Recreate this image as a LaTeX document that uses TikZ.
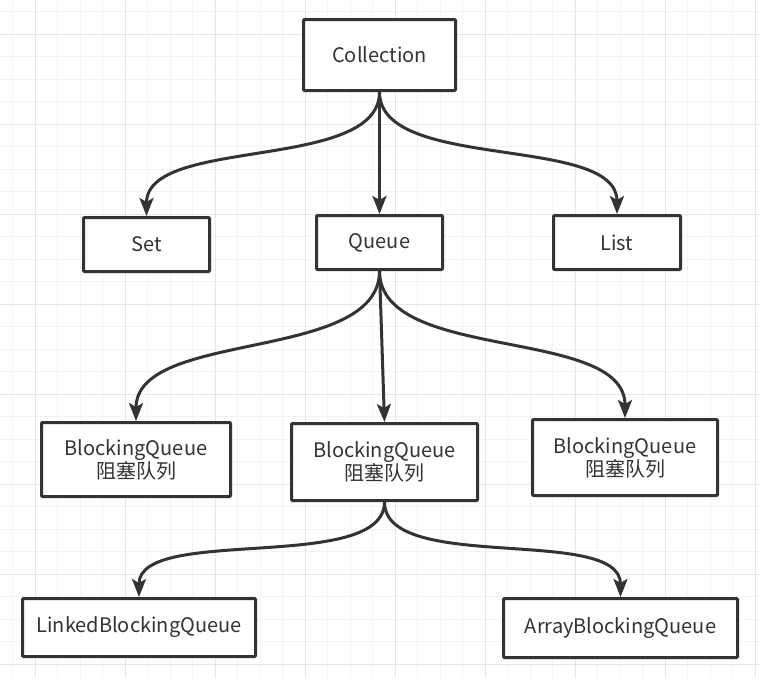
\documentclass[tikz,border=0pt]{standalone}
\usepackage{fontspec}
\setmainfont{Noto Sans CJK SC}
\usetikzlibrary{arrows.meta}
\definecolor{ink}{HTML}{333333}
\definecolor{gridminor}{HTML}{F3F3F3}
\definecolor{gridmajor}{HTML}{E6E6E6}
\begin{document}
\begin{tikzpicture}[x=1pt,y=-1pt,
  box/.style={draw=ink, line width=3pt, fill=white, text=ink,
    font=\fontsize{20}{23}\selectfont, align=center, inner sep=0pt, rounded corners=1pt},
  link/.style={draw=ink, line width=3pt, -{Stealth[length=18pt,width=14pt,inset=4pt]}},
  gminor/.style={draw=gridminor, line width=1pt},
  gmajor/.style={draw=gridmajor, line width=1pt}]
\useasboundingbox (0,0) rectangle (760,678);
\fill[white] (0,0) rectangle (760,678);
\foreach \i in {0,...,33} \draw[gminor] (12.5+22.5*\i,0) -- (12.5+22.5*\i,678);
\foreach \i in {0,...,30} \draw[gminor] (0,11.8+22.5*\i) -- (760,11.8+22.5*\i);
\foreach \i in {0,...,8} \draw[gmajor] (35+90*\i,0) -- (35+90*\i,678);
\foreach \i in {0,...,7} \draw[gmajor] (0,34.3+90*\i) -- (760,34.3+90*\i);

\node[box, minimum width=152pt, minimum height=71pt] (coll) at (379.5,55) {Collection};
\node[box, minimum width=126pt, minimum height=54pt] (set) at (146.5,244.5) {Set};
\node[box, minimum width=126pt, minimum height=54pt] (queue) at (379.5,242.5) {Queue};
\node[box, minimum width=127pt, minimum height=54pt] (list) at (617,242.5) {List};
\node[box, minimum width=189pt, minimum height=74pt] (bql) at (136,459.5) {BlockingQueue\\阻塞队列};
\node[box, minimum width=186pt, minimum height=77pt] (bqm) at (384.5,462) {BlockingQueue\\阻塞队列};
\node[box, minimum width=185pt, minimum height=76pt] (bqr) at (625,457.5) {BlockingQueue\\阻塞队列};
\node[box, minimum width=233pt, minimum height=58pt] (linked) at (139,627.5) {LinkedBlockingQueue};
\node[box, minimum width=234pt, minimum height=59pt] (array) at (620.5,628) {ArrayBlockingQueue};

\draw[link] (coll.south) .. controls +(0,80) and +(0,-80) .. (set.north);
\draw[link] (coll.south) -- (queue.north);
\draw[link] (coll.south) .. controls +(0,80) and +(0,-80) .. (list.north);
\draw[link] (queue.south) .. controls +(0,92) and +(0,-92) .. (bql.north);
\draw[link] (queue.south) -- (bqm.north);
\draw[link] (queue.south) .. controls +(0,92) and +(0,-92) .. (bqr.north);
\draw[link] (bqm.south) .. controls +(0,72) and +(0,-72) .. (linked.north);
\draw[link] (bqm.south) .. controls +(0,72) and +(0,-72) .. (array.north);
\end{tikzpicture}
\end{document}
